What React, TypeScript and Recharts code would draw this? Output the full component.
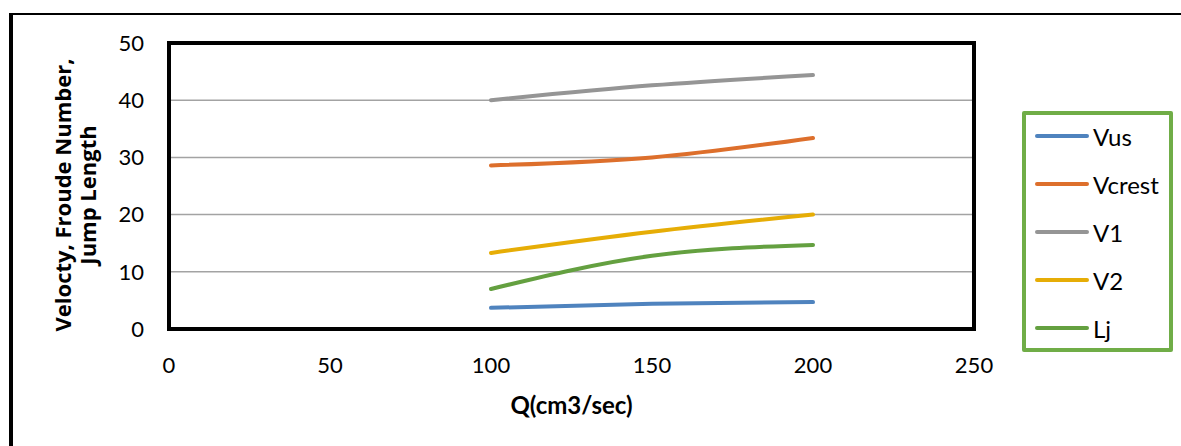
import { LineChart, Line, XAxis, YAxis, CartesianGrid, Legend, ReferenceArea } from 'recharts';

// Q values (cm3/sec)
const qValues = [100, 150, 200];

// series values
const vusValues = [3.7, 4.4, 4.7];
const vcrestValues = [28.6, 30.0, 33.4];
const v1Values = [40.0, 42.6, 44.4];
const v2Values = [13.3, 17.0, 20.0];
const ljValues = [7.0, 12.8, 14.7];

const xTicks = [0, 50, 100, 150, 200, 250];
const yTicks = [0, 10, 20, 30, 40, 50];

const seriesNames = ['Vus', 'Vcrest', 'V1', 'V2', 'Lj'];
const seriesColors = ['#4F83BE', '#DD6F2C', '#959595', '#E6AD06', '#64A040'];

const data = qValues.map((q, i) => ({
  q,
  Vus: vusValues[i],
  Vcrest: vcrestValues[i],
  V1: v1Values[i],
  V2: v2Values[i],
  Lj: ljValues[i],
}));

const FONT = 'Lato, "Open Sans", sans-serif';

const YTitle = ({ viewBox }: any) => {
  const cx = viewBox.x + 60;
  const cy = viewBox.y + viewBox.height / 2 + 9;
  return (
    <text
      transform={`translate(${cx},${cy}) rotate(-90)`}
      textAnchor="middle"
      fontFamily='"Open Sans", sans-serif'
      fontWeight="bold"
      fontSize={22}
      fill="#000"
    >
      <tspan x={0} y={2}>Velocty, Froude Number,</tspan>
      <tspan x={0} y={27}>Jump Length</tspan>
    </text>
  );
};

const XTitle = ({ viewBox }: any) => (
  <text
    x={viewBox.x + viewBox.width / 2}
    y={viewBox.y + 85}
    textAnchor="middle"
    fontFamily={FONT}
    fontWeight="bold"
    fontSize={24}
    fill="#000"
  >
    Q(cm3/sec)
  </text>
);

const LegendBox = ({ payload }: any) => {
  // keep the series order (the library sorts the payload by name)
  const items = seriesNames
    .map((name) => (payload || []).find((p: any) => p.value === name))
    .filter(Boolean);
  return (
    <div
      style={{
        border: '4px solid #70AD47',
        borderRadius: 2,
        boxSizing: 'border-box',
        width: 151,
        height: 241,
        padding: '0 0 0 9px',
        fontFamily: FONT,
        fontSize: 24,
        background: '#fff',
      }}
    >
      <div style={{ marginTop: -3 }}>
        {items.map((entry: any) => (
          <div key={entry.value} style={{ display: 'flex', alignItems: 'center', height: 48 }}>
            <span
              style={{
                display: 'inline-block',
                width: 54,
                height: 4,
                borderRadius: 2,
                background: entry.color,
                marginRight: 4,
              }}
            />
            <span style={{ color: '#000' }}>{entry.value}</span>
          </div>
        ))}
      </div>
    </div>
  );
};

export default function App() {
  return (
    <div style={{ position: 'absolute', left: 0, top: 0, width: 1181, height: 446, overflow: 'hidden', background: '#fff' }}>
      <div
        style={{
          position: 'absolute',
          left: 9,
          top: 13,
          width: 1400,
          height: 800,
          borderLeft: '4px solid #000',
          borderTop: '2px solid #000',
        }}
      />
      <LineChart
        width={1181}
        height={446}
        data={data}
        margin={{ top: 43, right: 207, bottom: 37, left: 9 }}
        style={{ position: 'absolute', left: 0, top: 0, fontFamily: FONT }}
      >
        <CartesianGrid vertical={false} stroke="#A3A3A3" strokeWidth={1.5} />
        <XAxis
          dataKey="q"
          type="number"
          domain={[0, 250]}
          ticks={xTicks}
          height={80}
          axisLine={false}
          tickLine={false}
          tickSize={0}
          tickMargin={28}
          tick={{ fill: '#000', fontSize: 22 }}
          label={{ content: <XTitle /> }}
        />
        <YAxis
          type="number"
          domain={[0, 50]}
          ticks={yTicks}
          width={160}
          axisLine={false}
          tickLine={false}
          tickSize={0}
          tickMargin={25}
          tick={{ fill: '#000', fontSize: 22 }}
          label={{ content: <YTitle /> }}
        />
        <ReferenceArea x1={0} x2={250} y1={0} y2={50} fill="none" stroke="#000" strokeWidth={4} />
        {seriesNames.map((name, i) => (
          <Line
            key={name}
            type="monotone"
            dataKey={name}
            name={name}
            stroke={seriesColors[i]}
            strokeWidth={4}
            strokeLinecap="round"
            dot={false}
            activeDot={false}
            isAnimationActive={false}
          />
        ))}
        <Legend
          layout="horizontal"
          verticalAlign="middle"
          align="center"
          content={<LegendBox />}
          wrapperStyle={{ left: 1022, top: 111, width: 151, height: 241 }}
        />
      </LineChart>
    </div>
  );
}
